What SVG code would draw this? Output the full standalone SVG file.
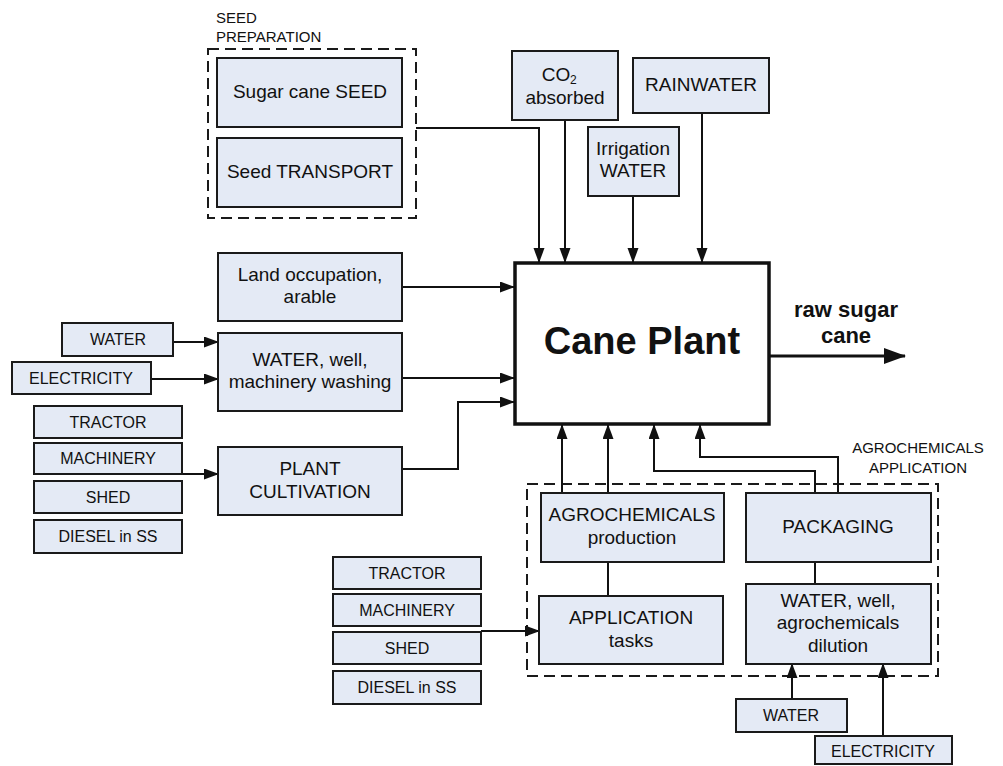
<svg xmlns="http://www.w3.org/2000/svg" width="1003" height="766" viewBox="0 0 1003 766">
<style>
.box{fill:#e4eaf5;stroke:#1a1a1a;stroke-width:2}
.t{font-family:"Liberation Sans",Arial,sans-serif;font-size:19px;fill:#111;text-anchor:middle}
.s{font-family:"Liberation Sans",Arial,sans-serif;font-size:16px;fill:#111;text-anchor:middle}
.lbl{font-family:"Liberation Sans",Arial,sans-serif;font-size:15px;fill:#111}
.dash{fill:none;stroke:#1a1a1a;stroke-width:2;stroke-dasharray:11 6}
.c{fill:none;stroke:#111;stroke-width:2}
.ca{fill:none;stroke:#111;stroke-width:2;marker-end:url(#ah)}
</style>
<defs>
<marker id="ah" markerUnits="userSpaceOnUse" markerWidth="15" markerHeight="12" refX="14" refY="5.5" orient="auto">
<path d="M0,0 L15,5.5 L0,11 z" fill="#111"/>
</marker>
<marker id="ahb" markerUnits="userSpaceOnUse" markerWidth="22" markerHeight="16" refX="21" refY="8" orient="auto">
<path d="M0,0 L22,8 L0,16 z" fill="#111"/>
</marker>
</defs>
<rect width="1003" height="766" fill="#fff"/>

<g id="seed-preparation">
<rect class="dash" x="208" y="49" width="208" height="169"/>
<text class="lbl" x="216" y="23">SEED</text>
<text class="lbl" x="216" y="42">PREPARATION</text>
</g>
<g id="agro-application">
<rect class="dash" x="527" y="484" width="411" height="192"/>
<text class="lbl" x="918" y="453" text-anchor="middle">AGROCHEMICALS</text>
<text class="lbl" x="918" y="473" text-anchor="middle">APPLICATION</text>
</g>

<g id="connectors">
<path class="ca" d="M416,128 H539 V262"/>
<path class="ca" d="M565,120 V262"/>
<path class="ca" d="M633,196 V262"/>
<path class="ca" d="M702,113 V262"/>
<path class="ca" d="M402,287 H514"/>
<path class="ca" d="M402,378 H514"/>
<path class="ca" d="M402,469 H458 V402 H514"/>
<path class="ca" d="M173,342 H218"/>
<path class="ca" d="M151,379 H218"/>
<path class="ca" d="M182,474 H218"/>
<path class="ca" d="M481,631 H539"/>
<path class="ca" d="M562,493 V425"/>
<path class="ca" d="M608,493 V425"/>
<path class="c" d="M608,562 V596"/>
<path class="ca" d="M815,493 V471 H654 V425"/>
<path class="ca" d="M838,493 V457 H700 V425"/>
<path class="c" d="M815,562 V584"/>
<path class="ca" d="M792,699 V664"/>
<path class="ca" d="M883,736 V664"/>
<path fill="none" stroke="#111" stroke-width="3" marker-end="url(#ahb)" d="M769,356 H905"/>
</g>

<g id="sugar-cane-seed"><rect class="box" x="217" y="58" width="185" height="69"/><text class="t" x="310" y="98">Sugar cane SEED</text></g>
<g id="seed-transport"><rect class="box" x="217" y="138" width="185" height="69"/><text class="t" x="310" y="178">Seed TRANSPORT</text></g>
<g id="co2"><rect class="box" x="512" y="51" width="106" height="69"/><text class="t" x="556" y="81">CO</text><text x="570" y="84" font-family="'Liberation Sans',Arial,sans-serif" font-size="12" fill="#111">2</text><text class="t" x="565" y="104">absorbed</text></g>
<g id="rainwater"><rect class="box" x="633" y="58" width="136" height="55"/><text class="t" x="701" y="91">RAINWATER</text></g>
<g id="irrigation"><rect class="box" x="588" y="127" width="91" height="69"/><text class="t" x="633" y="155">Irrigation</text><text class="t" x="633" y="177">WATER</text></g>

<g id="land"><rect class="box" x="218" y="253" width="184" height="68"/><text class="t" x="310" y="281">Land occupation,</text><text class="t" x="310" y="303">arable</text></g>
<g id="water-well"><rect class="box" x="218" y="333" width="184" height="78"/><text class="t" x="310" y="366">WATER, well,</text><text class="t" x="310" y="388">machinery washing</text></g>
<g id="plant-cultivation"><rect class="box" x="218" y="447" width="184" height="68"/><text class="t" x="310" y="475">PLANT</text><text class="t" x="310" y="498">CULTIVATION</text></g>

<g id="water1"><rect class="box" x="62" y="323" width="111" height="33"/><text class="s" x="118" y="345">WATER</text></g>
<g id="electricity1"><rect class="box" x="12" y="362" width="139" height="32"/><text class="s" x="81" y="384">ELECTRICITY</text></g>
<g id="tractor1"><rect class="box" x="34" y="406" width="148" height="32"/><text class="s" x="108" y="428">TRACTOR</text></g>
<g id="machinery1"><rect class="box" x="34" y="443" width="148" height="31"/><text class="s" x="108" y="464">MACHINERY</text></g>
<g id="shed1"><rect class="box" x="34" y="481" width="148" height="32"/><text class="s" x="108" y="503">SHED</text></g>
<g id="diesel1"><rect class="box" x="34" y="520" width="148" height="33"/><text class="s" x="108" y="542">DIESEL in SS</text></g>

<g id="cane-plant"><rect x="515" y="263" width="254" height="161" fill="#fff" stroke="#111" stroke-width="3.5"/><text x="642" y="354" text-anchor="middle" font-family="'Liberation Sans',Arial,sans-serif" font-weight="bold" font-size="38" fill="#111">Cane Plant</text></g>
<g id="raw-sugar-cane"><text x="846" y="317" text-anchor="middle" font-family="'Liberation Sans',Arial,sans-serif" font-weight="bold" font-size="22" fill="#111">raw sugar</text><text x="846" y="343" text-anchor="middle" font-family="'Liberation Sans',Arial,sans-serif" font-weight="bold" font-size="22" fill="#111">cane</text></g>

<g id="agro-production"><rect class="box" x="541" y="493" width="183" height="69"/><text class="t" x="632" y="521">AGROCHEMICALS</text><text class="t" x="632" y="544">production</text></g>
<g id="application-tasks"><rect class="box" x="539" y="596" width="184" height="68"/><text class="t" x="631" y="624">APPLICATION</text><text class="t" x="631" y="647">tasks</text></g>
<g id="packaging"><rect class="box" x="746" y="493" width="185" height="69"/><text class="t" x="838" y="533">PACKAGING</text></g>
<g id="water-well-agro"><rect class="box" x="746" y="584" width="185" height="80"/><text class="t" x="838" y="607">WATER, well,</text><text class="t" x="838" y="629">agrochemicals</text><text class="t" x="838" y="652">dilution</text></g>

<g id="tractor2"><rect class="box" x="333" y="557" width="148" height="32"/><text class="s" x="407" y="579">TRACTOR</text></g>
<g id="machinery2"><rect class="box" x="333" y="594" width="148" height="32"/><text class="s" x="407" y="616">MACHINERY</text></g>
<g id="shed2"><rect class="box" x="333" y="632" width="148" height="32"/><text class="s" x="407" y="654">SHED</text></g>
<g id="diesel2"><rect class="box" x="333" y="671" width="148" height="33"/><text class="s" x="407" y="693">DIESEL in SS</text></g>

<g id="water2"><rect class="box" x="736" y="699" width="111" height="33"/><text class="s" x="791" y="721">WATER</text></g>
<g id="electricity2"><rect class="box" x="815" y="736" width="137" height="28"/><text class="s" x="883" y="757">ELECTRICITY</text></g>
</svg>
